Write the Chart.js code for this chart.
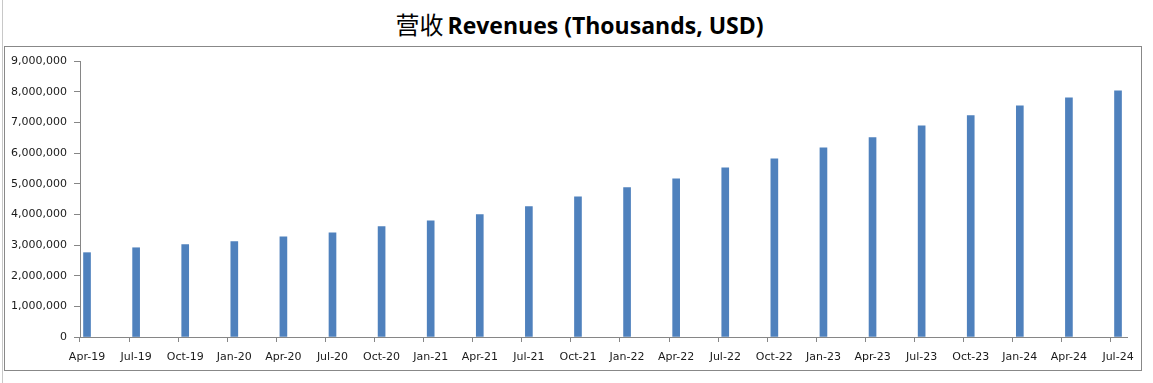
<!DOCTYPE html>
<html>
<head>
<meta charset="utf-8">
<script src="https://cdn.jsdelivr.net/npm/chart.js@4/dist/chart.umd.min.js"></script>
<style>
  html, body { margin:0; padding:0; background:#fff; width:1153px; height:383px; overflow:hidden; }
  #wrap { position:relative; width:1153px; height:383px; }
  #pageLine { position:absolute; left:2px; top:0; width:1px; height:383px; background:#c8c8c8; }
  #box { position:absolute; left:4px; top:46px; width:1136px; height:323px; border:1px solid #888; }
  #title { position:absolute; left:3px; top:9px; width:1153px; text-align:center; white-space:nowrap; line-height:30px; color:#000; }
  #title .zh { font-family:"Noto Sans CJK SC", sans-serif; font-weight:400; font-size:24px; }
  #title .en { font-family:"Open Sans", Lato, sans-serif; font-weight:700; font-size:23px; letter-spacing:0; }
  canvas { position:absolute; left:0; top:0; }
</style>
</head>
<body>
<div id="wrap">
  <div id="pageLine"></div>
  <div id="box"></div>
  <div id="title"><span class="zh">营收</span> <span class="en">Revenues (Thousands, USD)</span></div>
  <canvas id="c" width="1153" height="383"></canvas>
</div>
<script>
const categories = ['Apr-19','Jul-19','Oct-19','Jan-20','Apr-20','Jul-20','Oct-20','Jan-21','Apr-21','Jul-21','Oct-21',
                    'Jan-22','Apr-22','Jul-22','Oct-22','Jan-23','Apr-23','Jul-23','Oct-23','Jan-24','Apr-24','Jul-24'];
const revenues = [2750000, 2910000, 3010000, 3110000, 3270000, 3400000, 3600000, 3790000, 3990000, 4250000, 4570000,
                  4870000, 5160000, 5520000, 5810000, 6170000, 6500000, 6890000, 7220000, 7540000, 7800000, 8030000];
const yMin = 0, yMax = 9000000, yStep = 1000000;

const AXIS_COLOR = '#868686';
const TEXT_COLOR = '#1a1a1a';
const TICK_SHIFT = 0.155;

const xTickMarks = {
  id: 'xTickMarks',
  afterDraw(chart) {
    const xs = chart.scales.x, ctx = chart.ctx, y0 = chart.chartArea.bottom;
    ctx.save();
    ctx.strokeStyle = AXIS_COLOR;
    ctx.lineWidth = 1;
    ctx.beginPath();
    categories.forEach((c, i) => {
      const px = Math.round(xs.getPixelForValue(i - TICK_SHIFT)) + 0.5;
      ctx.moveTo(px, y0);
      ctx.lineTo(px, y0 + 5);
    });
    ctx.stroke();
    ctx.restore();
  }
};

new Chart(document.getElementById('c'), {
  type: 'bar',
  data: {
    datasets: [{
      data: categories.map((c, i) => ({ x: i, y: revenues[i] })),
      backgroundColor: '#4F81BD',
      borderWidth: 0,
      barThickness: 7
    }]
  },
  options: {
    responsive: false,
    animation: false,
    devicePixelRatio: 1,
    layout: { padding: { left: 0, right: 26, top: 61, bottom: 0 } },
    plugins: { legend: { display: false }, tooltip: { enabled: false }, title: { display: false } },
    scales: {
      x: {
        type: 'linear',
        offset: false,
        min: -0.143,
        max: 21.183,
        afterBuildTicks: s => { s.ticks = categories.map((c, i) => ({ value: i })); },
        afterFit: s => { s.height = 46; },
        ticks: {
          autoSkip: false, maxRotation: 0, minRotation: 0,
          callback: v => categories[v],
          font: { family: 'DejaVu Sans', size: 11 },
          color: TEXT_COLOR,
          padding: 6
        },
        grid: { display: false },
        border: { display: true, color: AXIS_COLOR, width: 1 }
      },
      y: {
        min: yMin, max: yMax,
        afterFit: s => { s.width = 80; },
        ticks: {
          stepSize: yStep,
          callback: v => v.toLocaleString('en-US'),
          font: { family: 'DejaVu Sans', size: 11 },
          color: TEXT_COLOR,
          padding: 7
        },
        grid: { drawOnChartArea: false, drawTicks: true, tickLength: 6, color: AXIS_COLOR },
        border: { display: true, color: AXIS_COLOR, width: 1 }
      }
    }
  },
  plugins: [xTickMarks]
});
</script>
</body>
</html>
